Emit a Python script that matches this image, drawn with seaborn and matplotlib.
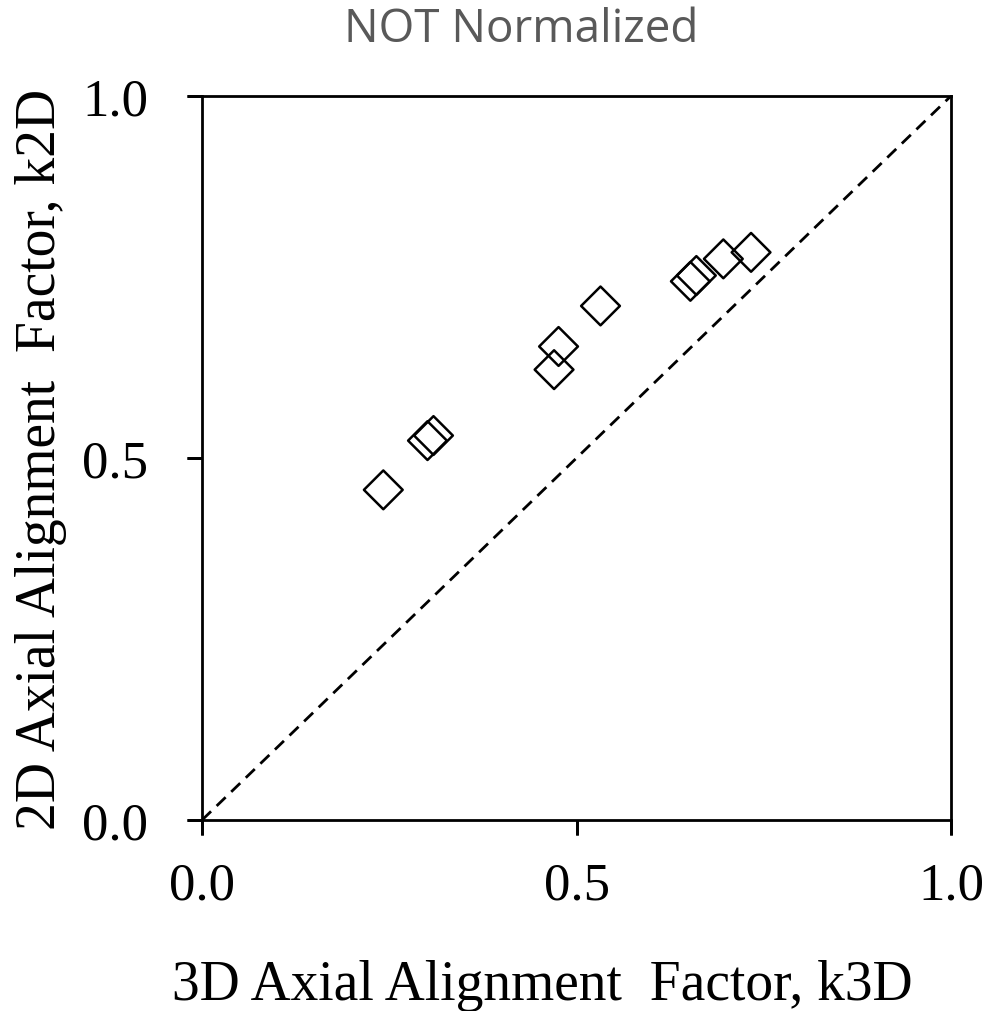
import numpy as np
import pandas as pd
import matplotlib
matplotlib.use("Agg")
import matplotlib.pyplot as plt
from matplotlib.lines import Line2D
import seaborn as sns

# k3D vs k2D values
k3d = [0.242, 0.301, 0.309, 0.470, 0.476, 0.532, 0.652, 0.660, 0.696, 0.733]
k2d = [0.456, 0.524, 0.531, 0.622, 0.654, 0.710, 0.744, 0.752, 0.775, 0.784]
ticks = [0.0, 0.5, 1.0]
tick_labels = ["0.0", "0.5", "1.0"]

df = pd.DataFrame({"k3D": k3d, "k2D": k2d})

sns.set_style("ticks")
plt.rcParams['font.family'] = ['Liberation Serif', 'DejaVu Serif']
plt.rcParams.update({"text.color": "black", "axes.labelcolor": "black",
                     "xtick.color": "black", "ytick.color": "black",
                     "axes.edgecolor": "black"})

fig = plt.figure(figsize=(9.89, 10.12), dpi=100)
ax = fig.add_axes([0.2043, 0.1887, 0.7573, 0.7155])

# 1:1 reference line
ax.plot([0, 1], [0, 1], color="black", linestyle=(0, (4.5, 2.8)), linewidth=2.0, zorder=1)

sns.scatterplot(data=df, x="k3D", y="k2D", ax=ax, marker="D", s=390,
                facecolor="none", edgecolor="black", linewidth=1.8, zorder=3)

ax.set_xlim(0, 1)
ax.set_ylim(0, 1)
ax.set_xticks(ticks)
ax.set_xticklabels(tick_labels)
ax.set_yticks(ticks)
ax.set_yticklabels(tick_labels)
ax.tick_params(direction="out", length=11, width=2, labelsize=38, color="black")
ax.tick_params(axis="x", pad=18.5)
ax.tick_params(axis="y", pad=28)
for s in ax.spines.values():
    s.set_visible(True)
    s.set_color("black")
    s.set_linewidth(2)

# outward tick marks added at figure level as plain line segments
bbox = ax.get_window_extent()
tick_px = 15
for t in ticks:
    fig.add_artist(Line2D([t, t], [0, -tick_px / bbox.height], color="black",
                          lw=2, transform=ax.get_xaxis_transform(),
                          solid_capstyle="butt", zorder=5))
    fig.add_artist(Line2D([0, -tick_px / bbox.width], [t, t], color="black",
                          lw=2, transform=ax.get_yaxis_transform(),
                          solid_capstyle="butt", zorder=5))

ax.set_xlabel("3D Axial Alignment  Factor, k3D", fontsize=40, labelpad=36, x=0.454)
ax.set_ylabel("2D Axial Alignment  Factor, k2D", fontsize=40, labelpad=11)

fig.text(521 / 989, 1 - 30 / 1012, "NOT Normalized", ha="center", va="center",
         fontsize=33, color="#595959", family=["Open Sans", "DejaVu Sans"])

fig.savefig("out.png", dpi=100)
